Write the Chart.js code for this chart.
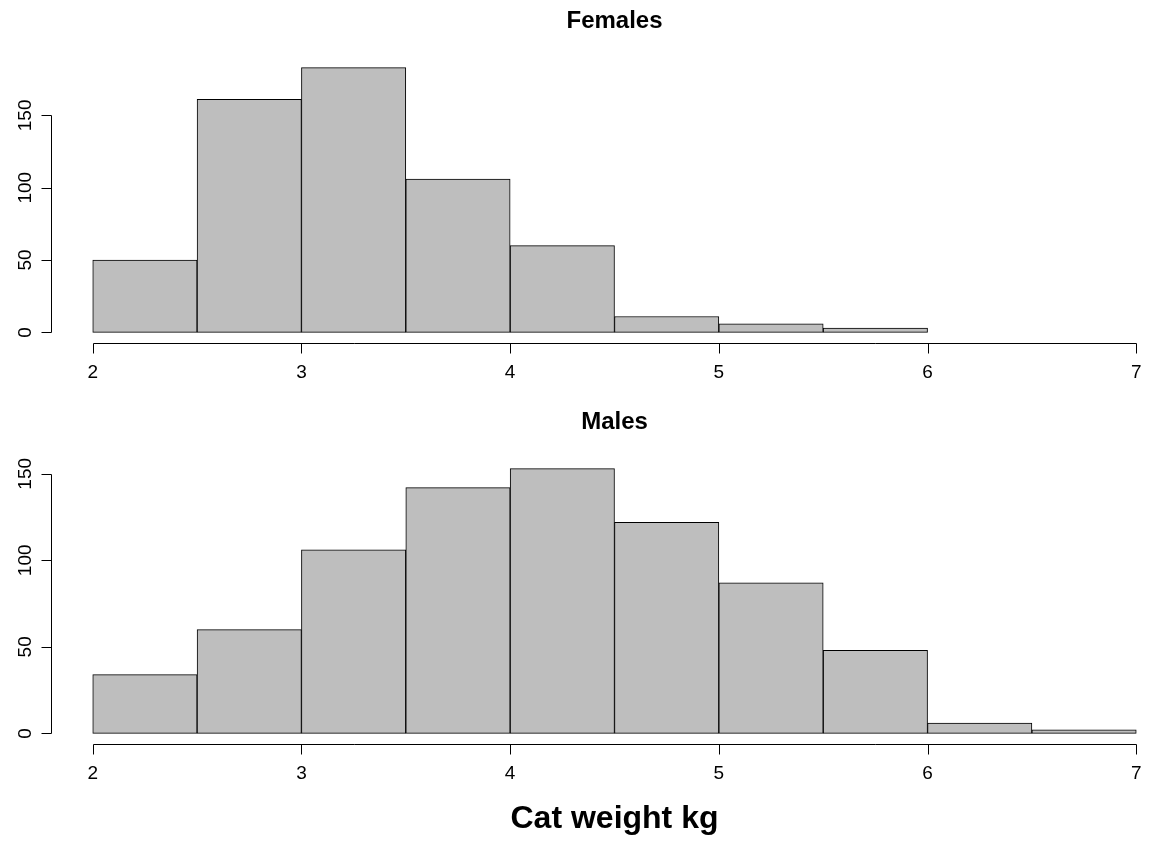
<!DOCTYPE html>
<html>
<head>
<meta charset="utf-8">
<title>Cat weight histograms</title>
<script src="https://cdn.jsdelivr.net/npm/chart.js@4.4.1/dist/chart.umd.min.js"></script>
<style>
  html, body { margin: 0; padding: 0; background: #fff; overflow: hidden; }
  #wrap { position: relative; width: 1150px; height: 841px; overflow: hidden; }
  canvas { position: absolute; left: 0; display: block; }
  #females { top: 0; }
  #males { top: 400px; }
</style>
</head>
<body>
<div id="wrap">
  <canvas id="females" width="1190" height="400"></canvas>
  <canvas id="males" width="1190" height="441"></canvas>
</div>
<script>
// histogram bin edges (kg) and counts per bin
const breaks = [2, 2.5, 3, 3.5, 4, 4.5, 5, 5.5, 6, 6.5, 7];
const femaleCounts = [50, 161, 183, 106, 60, 11, 6, 3];
const maleCounts = [34, 60, 106, 142, 153, 122, 87, 48, 6, 2];

const xTicks = [2, 3, 4, 5, 6, 7];
const yTicks = [0, 50, 100, 150];

const FONT = '"Liberation Sans", Arial, Helvetica, sans-serif';

// base-graphics style axes: detached lines that only span the tick range
const rAxes = {
  id: 'rAxes',
  afterDraw(chart, args, opts) {
    const { ctx, chartArea: a, scales: { x, y } } = chart;
    const px = v => Math.round(x.getPixelForValue(v)) + 0.5;
    const py = v => Math.round(y.getPixelForValue(v)) + 0.5;
    const xb = Math.round(a.bottom) + 0.5;
    const yl = Math.round(a.left) + 0.5;

    ctx.save();
    ctx.strokeStyle = '#000';
    ctx.fillStyle = '#000';
    ctx.lineWidth = 1;
    ctx.beginPath();
    ctx.moveTo(px(xTicks[0]), xb);
    ctx.lineTo(px(xTicks[xTicks.length - 1]), xb);
    xTicks.forEach(v => { ctx.moveTo(px(v), xb); ctx.lineTo(px(v), xb + 10); });
    ctx.moveTo(yl, py(yTicks[0]));
    ctx.lineTo(yl, py(yTicks[yTicks.length - 1]));
    yTicks.forEach(v => { ctx.moveTo(yl, py(v)); ctx.lineTo(yl - 10, py(v)); });
    ctx.stroke();

    ctx.font = '19px ' + FONT;
    ctx.textAlign = 'center';
    ctx.textBaseline = 'alphabetic';
    xTicks.forEach(v => ctx.fillText(String(v), x.getPixelForValue(v), a.bottom + 35));
    yTicks.forEach(v => {
      ctx.save();
      ctx.translate(a.left - 20, y.getPixelForValue(v));
      ctx.rotate(-Math.PI / 2);
      ctx.fillText(String(v), 0, 0);
      ctx.restore();
    });

    const cx = (a.left + a.right) / 2;
    ctx.font = 'bold 24px ' + FONT;
    ctx.fillText(opts.title, cx, a.top - 29);
    if (opts.xlabel) {
      ctx.font = 'bold 32px ' + FONT;
      ctx.fillText(opts.xlabel, cx, a.bottom + 84);
    }
    ctx.restore();
  }
};

function histogram(canvasId, counts, title, xlabel, padding) {
  const ymax = Math.max(...counts);
  const data = counts.map((c, i) => ({ x: (breaks[i] + breaks[i + 1]) / 2, y: c }));
  return new Chart(document.getElementById(canvasId), {
    type: 'bar',
    data: {
      datasets: [{
        data: data,
        backgroundColor: '#BEBEBE',
        borderColor: '#000',
        borderWidth: 1,
        borderSkipped: false,
        barPercentage: 1,
        categoryPercentage: 1
      }]
    },
    options: {
      responsive: false,
      animation: false,
      events: [],
      layout: { padding: padding },
      scales: {
        x: {
          type: 'linear',
          display: false,
          offset: false,
          min: 1.8,
          max: 7.2,
          afterBuildTicks: s => { s.ticks = breaks.map(v => ({ value: v })); }
        },
        y: {
          display: false,
          min: -0.04 * ymax,
          max: 1.04 * ymax
        }
      },
      plugins: {
        legend: { display: false },
        tooltip: { enabled: false },
        rAxes: { title: title, xlabel: xlabel }
      }
    },
    plugins: [rAxes]
  });
}

histogram('females', femaleCounts, 'Females', null, { left: 51, right: 12, top: 57, bottom: 57 });
histogram('males', maleCounts, 'Males', 'Cat weight kg', { left: 51, right: 12, top: 58, bottom: 97 });
</script>
</body>
</html>
